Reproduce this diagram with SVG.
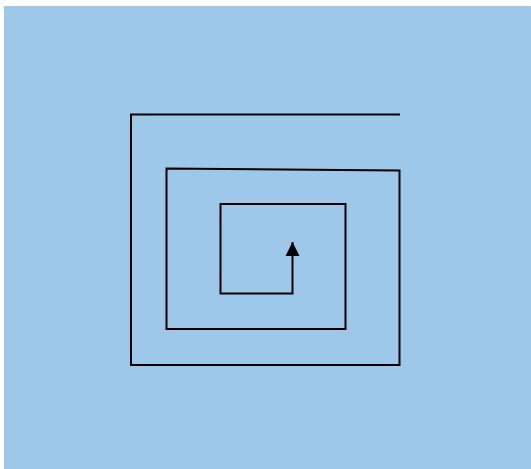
<svg xmlns="http://www.w3.org/2000/svg" width="531" height="469" viewBox="0 0 531 469">
<style>
.line{fill:none;stroke:#000;stroke-width:2;stroke-linejoin:miter;stroke-linecap:butt}
</style>
<defs>
<marker id="arrow" markerUnits="userSpaceOnUse" markerWidth="14" markerHeight="16" refX="14" refY="7" orient="auto" viewBox="0 0 14 14">
<path d="M0,0 L14,7 L0,14 Z" fill="#000"/>
</marker>
</defs>
<rect x="4" y="6" width="527" height="463" fill="#9ec8ea"/>
<g id="connectors">
<path class="line" marker-end="url(#arrow)" d="M400,114.5 L131,114.5 L131,365 L399.5,365 L399.5,170.5 L166.5,168.5 L166.5,329 L345.5,329 L345.5,204 L220.5,204 L220.5,293.5 L292.5,293.5 L292.5,242"/>
</g>
</svg>
